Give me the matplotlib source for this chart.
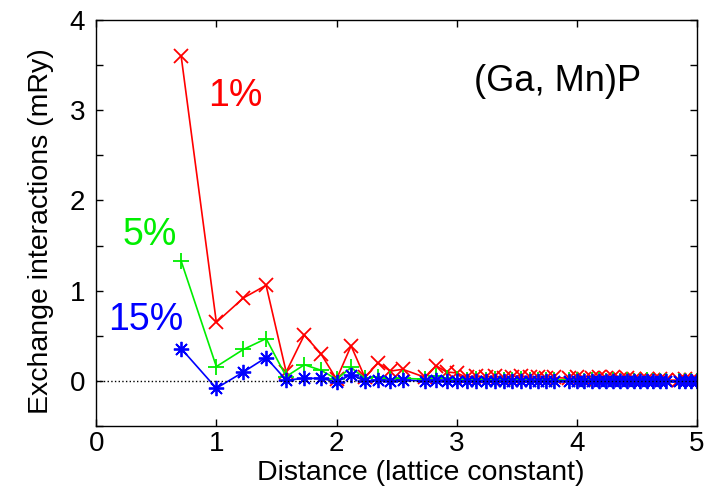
import numpy as np
import matplotlib
matplotlib.use('Agg')
import matplotlib.pyplot as plt

plt.rcParams['font.family'] = ['Liberation Sans', 'DejaVu Sans']

# neighbour shell distances (lattice constant units)
dist = [0.707, 1.000, 1.225, 1.414, 1.581, 1.732, 1.871, 2.000, 2.121, 2.236,
        2.345, 2.449, 2.550, 2.739, 2.828, 2.915, 3.000, 3.082, 3.162, 3.240,
        3.317, 3.391, 3.464, 3.536, 3.606, 3.674, 3.742, 3.808, 3.937, 4.000,
        4.062, 4.123, 4.183, 4.243, 4.301, 4.359, 4.416, 4.472, 4.528, 4.583,
        4.637, 4.690, 4.743, 4.848, 4.899, 4.950, 5.000]

# exchange interactions (mRy)
j_1 = [3.60, 0.65, 0.92, 1.06, 0.10, 0.51, 0.30, 0.02, 0.39, 0.04,
       0.20, 0.11, 0.13, 0.04, 0.17, 0.10, 0.09, 0.04, 0.06, 0.04,
       0.06, 0.03, 0.05, 0.06, 0.04, 0.05, 0.03, 0.04, 0.03, 0.04,
       0.02, 0.03, 0.04, 0.03, 0.04, 0.02, 0.03, 0.02, 0.01, 0.02,
       0.01, 0.02, 0.01, 0.01, 0.02, 0.01, 0.01]
j_5 = [1.33, 0.16, 0.35, 0.47, 0.05, 0.18, 0.12, 0.02, 0.15, 0.03,
       0.05, 0.02, 0.03, 0.02, 0.06, 0.03, 0.02, 0.01, 0.02, 0.01,
       0.02, 0.01, 0.01, 0.02, 0.01, 0.01, 0.01, 0.01, 0.01, 0.01,
       0.00, 0.01, 0.01, 0.00, 0.01, 0.00, 0.01, 0.00, 0.00, 0.01,
       0.00, 0.00, 0.00, 0.00, 0.00, 0.00, 0.00]
j_15 = [0.36, -0.08, 0.10, 0.26, 0.01, 0.03, 0.03, -0.01, 0.07, 0.00,
        0.01, 0.00, 0.01, 0.00, 0.01, 0.00, 0.00, 0.00, 0.00, 0.00,
        0.00, 0.00, 0.00, 0.00, 0.00, 0.00, 0.00, 0.00, 0.00, 0.00,
        0.00, 0.00, 0.00, 0.00, 0.00, 0.00, 0.00, 0.00, 0.00, 0.00,
        0.00, 0.00, 0.00, 0.00, 0.00, 0.00, 0.00]

fig = plt.figure(figsize=(7.07, 4.95), dpi=100)
ax = fig.add_axes([0.136, 0.139, 0.850, 0.821])

ax.plot(dist, j_1, color='#ff0000', marker='x', ms=10, mew=1.3, lw=1.2)
ax.plot(dist, j_5, color='#00ee00', marker='+', ms=11, mew=1.3, lw=1.2)
ax.plot(dist, j_15, color='#0000ff', marker=(8, 2, 0), ms=11, mew=1.3, lw=1.2)
ax.axhline(0, color='k', ls=':', lw=1.0, zorder=5)

ax.text(0.93, 3.04, '1%', color='#ff0000', fontsize=27)
ax.text(0.22, 1.51, '5%', color='#00ee00', fontsize=27)
ax.text(0.10, 0.57, '15%', color='#0000ff', fontsize=27)
ax.text(3.14, 3.21, '(Ga, Mn)P', color='k', fontsize=26)

ax.set_xlim(0, 5)
ax.set_ylim(-0.5, 4)
ax.set_xticks([0, 1, 2, 3, 4, 5])
yt = np.arange(-0.5, 4.01, 0.5)
ax.set_yticks(yt)
ax.set_yticklabels([f'{v:g}' if v == int(v) else '' for v in yt])
ax.tick_params(direction='in', top=True, right=True, labelsize=20, length=5, width=1)
ax.tick_params(axis='y', pad=8)
for s in ax.spines.values():
    s.set_linewidth(1.0)

ax.set_xlabel('Distance (lattice constant)', fontsize=20.5)
ax.set_ylabel('Exchange interactions (mRy)', fontsize=20.5)
ax.xaxis.set_label_coords(0.54, -0.082)
ax.yaxis.set_label_coords(-0.07, 0.48)

fig.savefig('out.png', dpi=100)
